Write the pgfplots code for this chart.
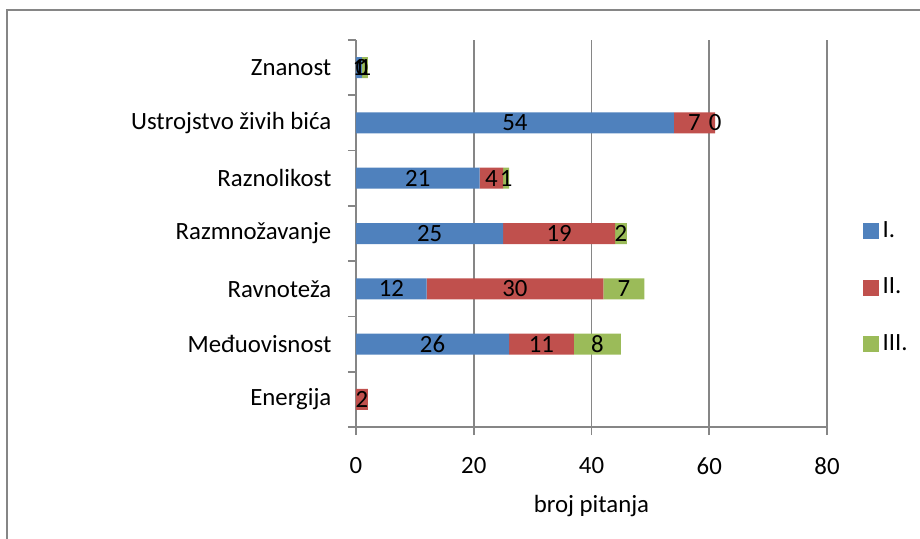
\documentclass[border=0pt]{standalone}
\usepackage{fontspec}
\setmainfont{Carlito}
\usepackage{pgfplots}
\usepackage{pgfplotstable}
\pgfplotsset{compat=1.18}
\definecolor{cI}{HTML}{4F81BD}
\definecolor{cII}{HTML}{C0504D}
\definecolor{cIII}{HTML}{9BBB59}
\definecolor{axgray}{RGB}{134,134,134}

\pgfplotstableread{
y val lab
0 0 \relax
1 26 26
2 12 12
3 25 25
4 21 21
5 54 54
6 1 1
}\dataI
\pgfplotstableread{
y val lab
0 2 2
1 11 11
2 30 30
3 19 19
4 4 4
5 7 7
6 0 0
}\dataII
\pgfplotstableread{
y val lab
0 0 \relax
1 8 8
2 7 7
3 2 2
4 1 1
5 0 0
6 1 1
}\dataIII
% positions (cumulative ends) of the zero-valued segments' labels
\pgfplotstableread{
x y lab
61 5 0
1 6 0
}\zerolabels

\begin{document}
\fontsize{12.4}{14}\selectfont
\begin{tikzpicture}
\path[use as bounding box] (-178pt,-55.5pt) rectangle (282pt,213.5pt);
\draw[axgray, line width=1pt] (-174.5pt,-60pt) -- (-174.5pt,208.5pt) -- (290pt,208.5pt);
\begin{axis}[
  scale only axis, width=235.5pt, height=193.5pt,
  xbar stacked, bar width=10.5pt,
  xmin=0, xmax=80, ymin=-0.5, ymax=6.5,
  axis x line=bottom, axis y line=left,
  axis line style={axgray, line width=0.8pt, -},
  every tick/.style={axgray, line width=0.8pt},
  tick align=outside, major tick length=4pt,
  xtick={0,20,...,80},
  xmajorgrids, major grid style={axgray, line width=0.8pt},
  /pgf/number format/assume math mode=true,
  xticklabel style={yshift=-7pt},
  xlabel={broj pitanja},
  xlabel style={yshift=-2pt},
  ytick={-0.5,0.5,...,6.5}, yticklabels={},
  extra y ticks={0,1,2,3,4,5,6},
  extra y tick labels={Energija,Međuovisnost,Ravnoteža,Razmnožavanje,Raznolikost,Ustrojstvo živih bića,Znanost},
  extra y tick style={major tick length=0pt, yticklabel style={xshift=-8pt}},
  clip=false,
  point meta=explicit symbolic,
  nodes near coords,
  every node near coord/.append style={anchor=center, text=black, inner sep=0pt},
  legend style={draw=none, fill=none, at={(1.062,0.36)}, anchor=west, row sep=14.5pt, legend cell align=left},
  legend image code/.code={\fill[#1] (0pt,-4pt) rectangle (8pt,4pt);},
]
\addplot[fill=cI, draw=none] table[x=val, y=y, meta=lab] {\dataI};
\addplot[fill=cII, draw=none] table[x=val, y=y, meta=lab] {\dataII};
\addplot[fill=cIII, draw=none] table[x=val, y=y, meta=lab] {\dataIII};
\legend{I.,II.,III.}
\addplot[forget plot, sharp plot, stack plots=false, draw=none, mark=none,
  visualization depends on={\thisrow{x} \as \xv},
  nodes near coords,
  every node near coord/.append style={xshift={1.471875pt*\xv}}]
  table[x=x, y=y, meta=lab] {\zerolabels};
\end{axis}
\end{tikzpicture}
\end{document}
